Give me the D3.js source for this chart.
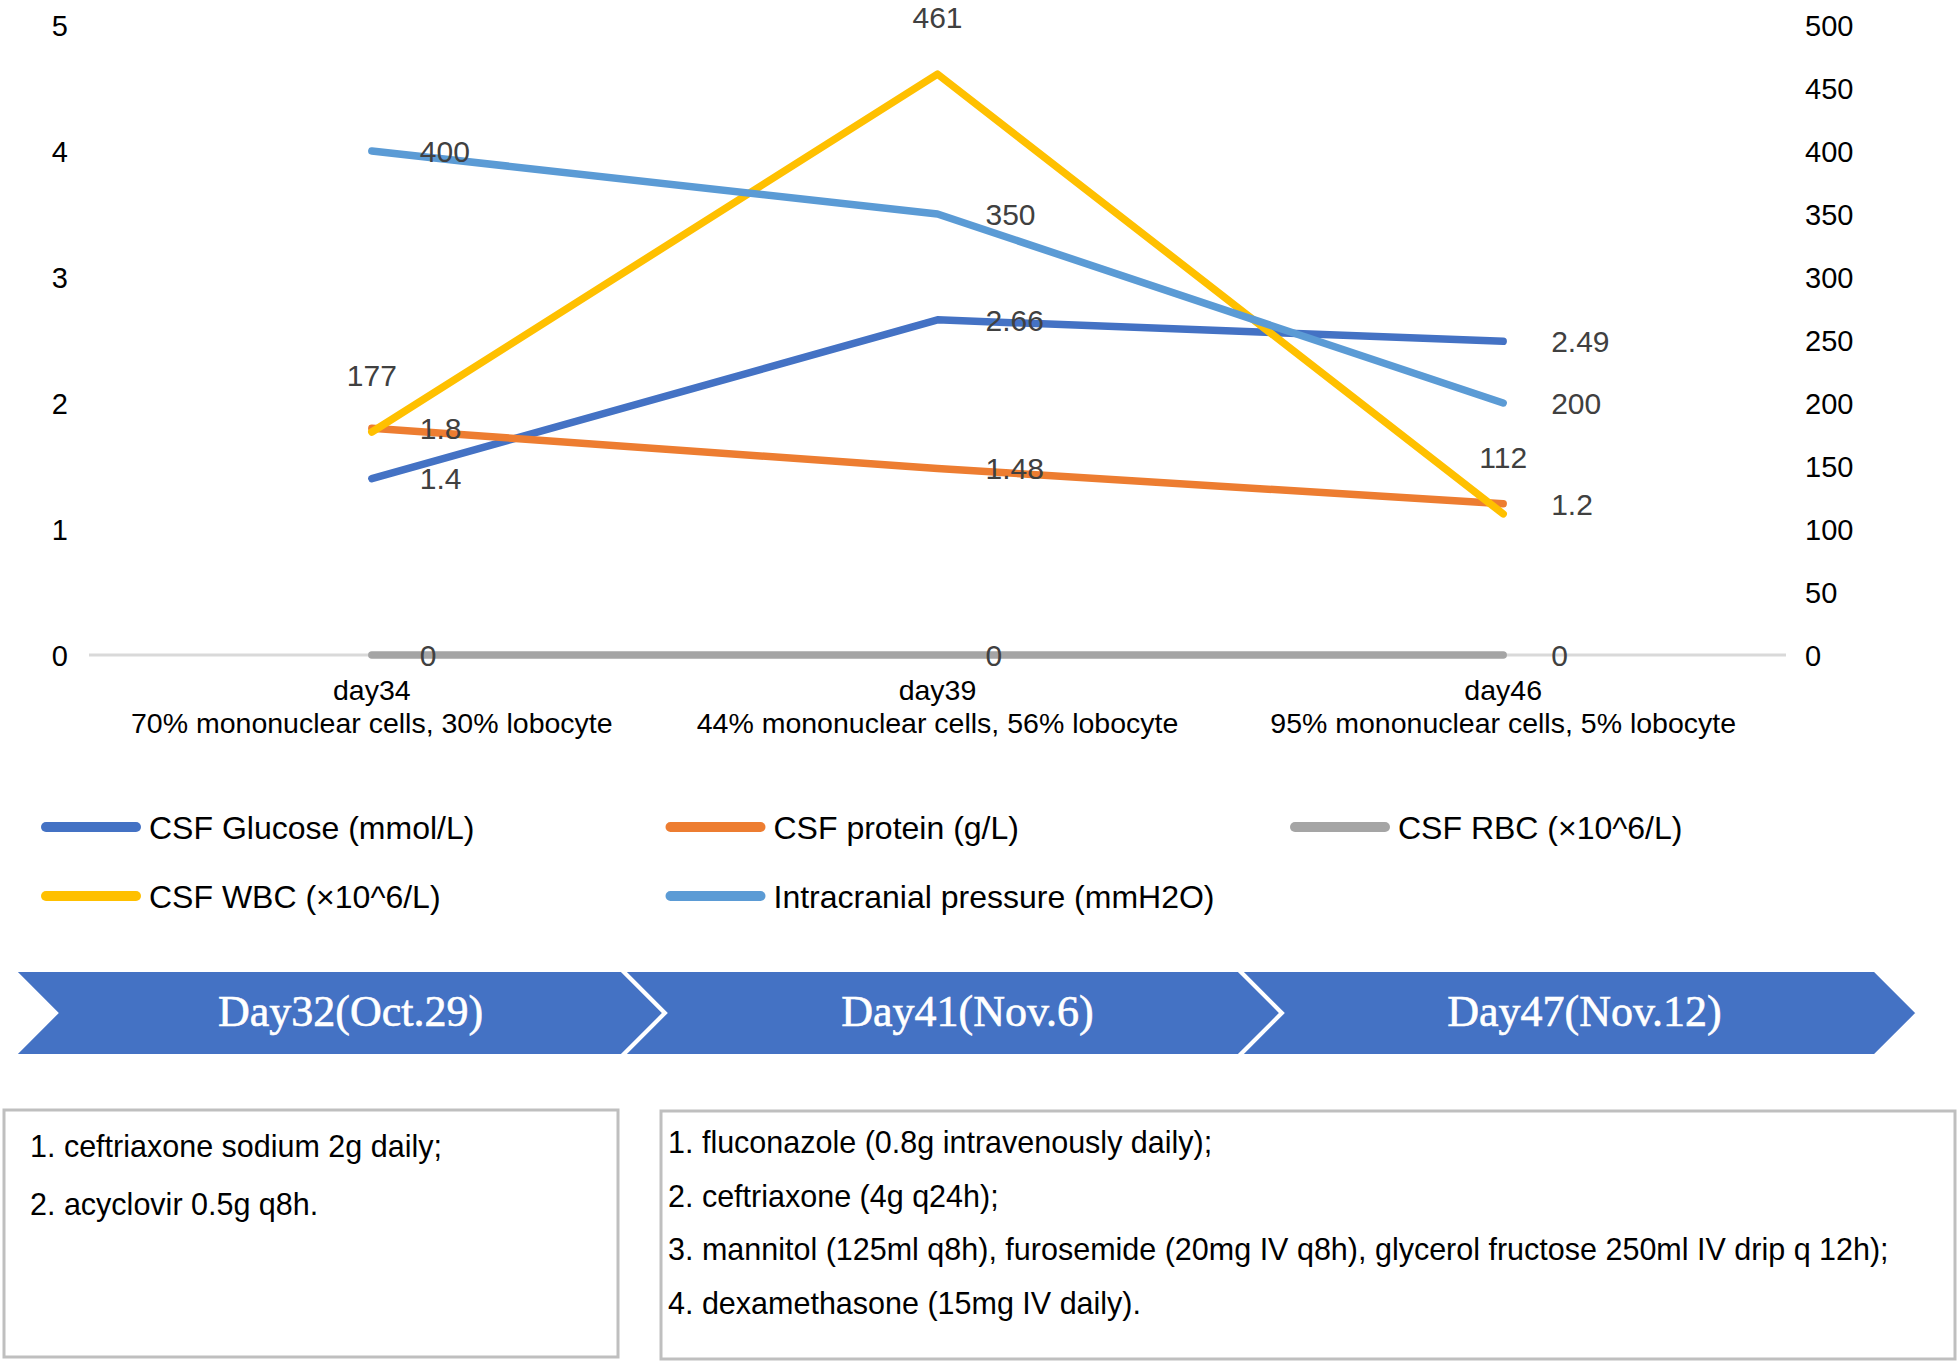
<!DOCTYPE html>
<html>
<head>
<meta charset="utf-8">
<script src="https://cdn.jsdelivr.net/npm/d3@7"></script>
<style>
  body { margin: 0; background: #fff; }
  svg { display: block; font-family: "Liberation Sans", Arial, sans-serif; }
</style>
</head>
<body>
<svg id="chart" width="1959" height="1362"></svg>
<script>
// chart data
const categories = ["day34", "day39", "day46"];
const cellNotes = [
  "70% mononuclear cells, 30% lobocyte",
  "44% mononuclear cells, 56% lobocyte",
  "95% mononuclear cells, 5% lobocyte"
];
const glucose = [1.4, 2.66, 2.49];
const protein = [1.8, 1.48, 1.2];
const rbc = [0, 0, 0];
const wbc = [177, 461, 112];
const pressure = [400, 350, 200];
const leftTicks = [0, 1, 2, 3, 4, 5];
const rightTicks = [0, 50, 100, 150, 200, 250, 300, 350, 400, 450, 500];

// timeline + treatment
const phases = ["Day32(Oct.29)", "Day41(Nov.6)", "Day47(Nov.12)"];
const regimenA = [
  "1. ceftriaxone sodium 2g daily;",
  "2. acyclovir 0.5g q8h."
];
const regimenB = [
  "1. fluconazole (0.8g intravenously daily);",
  "2. ceftriaxone (4g q24h);",
  "3. mannitol (125ml q8h), furosemide (20mg IV q8h), glycerol fructose 250ml IV drip q 12h);",
  "4. dexamethasone (15mg IV daily)."
];

const series = [
  { name: "CSF Glucose (mmol/L)", values: glucose, axis: "left", color: "#4472C4", label: "right" },
  { name: "CSF protein (g/L)", values: protein, axis: "left", color: "#ED7D31", label: "right" },
  { name: "CSF RBC (×10^6/L)", values: rbc, axis: "left", color: "#A5A5A5", label: "right" },
  { name: "CSF WBC (×10^6/L)", values: wbc, axis: "right", color: "#FFC000", label: "above" },
  { name: "Intracranial pressure (mmH2O)", values: pressure, axis: "right", color: "#5B9BD5", label: "right" }
];

const svg = d3.select("#chart");

let x = d3.scaleBand().domain(categories).range([89, 1786]);
let yL = d3.scaleLinear().domain([0, 5]).range([655, 25]);
let yR = d3.scaleLinear().domain([0, 500]).range([655, 25]);
let cx = d => x(d) + x.bandwidth() / 2;

// zero gridline
svg.append("line")
  .attr("x1", 89).attr("x2", 1786)
  .attr("y1", yL(0)).attr("y2", yL(0))
  .attr("stroke", "#D9D9D9").attr("stroke-width", 3);

// axes
let axL = svg.append("g")
  .attr("transform", "translate(68,0)")
  .call(d3.axisLeft(yL).tickValues(leftTicks).tickFormat(d3.format("d")).tickSize(0).tickPadding(0));
let axR = svg.append("g")
  .attr("transform", "translate(1805,0)")
  .call(d3.axisRight(yR).tickValues(rightTicks).tickFormat(d3.format("d")).tickSize(0).tickPadding(0));
[axL, axR].forEach(a => {
  a.select(".domain").remove();
  a.attr("font-family", null).attr("font-size", null);
  a.selectAll("text").attr("font-size", 29).attr("fill", "#000").attr("dy", "0.36em");
});

// category labels
let cat = svg.append("g").selectAll("text")
  .data(categories).join("text")
  .attr("x", d => cx(d))
  .attr("text-anchor", "middle")
  .attr("font-size", 28.5)
  .attr("fill", "#000");
cat.append("tspan").attr("x", d => cx(d)).attr("y", 700).text(d => d);
cat.append("tspan").attr("x", d => cx(d)).attr("y", 733).text((d, i) => cellNotes[i]);

// lines
series.forEach(s => {
  let y = s.axis === "left" ? yL : yR;
  let line = d3.line()
    .x((d, i) => cx(categories[i]))
    .y(d => y(d));
  svg.append("path")
    .datum(s.values)
    .attr("d", line)
    .attr("fill", "none")
    .attr("stroke", s.color)
    .attr("stroke-width", 7.5)
    .attr("stroke-linecap", "round")
    .attr("stroke-linejoin", "round");
});

// data labels
series.forEach(s => {
  let y = s.axis === "left" ? yL : yR;
  svg.append("g").selectAll("text")
    .data(s.values).join("text")
    .attr("x", (d, i) => s.label === "above" ? cx(categories[i]) : cx(categories[i]) + 48)
    .attr("y", d => s.label === "above" ? y(d) - 57 : y(d))
    .attr("dy", "0.36em")
    .attr("text-anchor", s.label === "above" ? "middle" : "start")
    .attr("font-size", 30)
    .attr("fill", "#404040")
    .text(d => d);
});

// legend
let leg = svg.append("g").selectAll("g")
  .data(series).join("g")
  .attr("transform", (d, i) => `translate(${41 + (i % 3) * 624.5},${827 + Math.floor(i / 3) * 69})`);
leg.append("line")
  .attr("x1", 5).attr("x2", 95)
  .attr("stroke", d => d.color)
  .attr("stroke-width", 10)
  .attr("stroke-linecap", "round");
leg.append("text")
  .attr("x", 108)
  .attr("dy", "0.36em")
  .attr("font-size", 32)
  .attr("fill", "#000")
  .text(d => d.name);

// timeline chevrons
let t = d3.scaleBand().domain(phases).range([5, 1856]);
let notch = 43, bandTop = 970, bandBot = 1056, bandMid = (bandTop + bandBot) / 2;
let chev = svg.append("g").selectAll("g")
  .data(phases).join("g");
chev.append("path")
  .attr("d", (d, i) => {
    let x0 = i === 0 ? 13 : t(d);
    let x1 = i === phases.length - 1 ? 1875 : t(d) + t.bandwidth();
    return `M${x0},${bandTop}L${x1},${bandTop}L${x1 + notch},${bandMid}L${x1},${bandBot}L${x0},${bandBot}L${x0 + notch},${bandMid}Z`;
  })
  .attr("fill", "#4472C4")
  .attr("stroke", "#fff")
  .attr("stroke-width", 4)
  .attr("stroke-linejoin", "miter");
chev.append("text")
  .attr("x", d => t(d) + t.bandwidth() / 2 + 37)
  .attr("y", 1026)
  .attr("text-anchor", "middle")
  .attr("font-family", "'Liberation Serif', 'Times New Roman', serif")
  .attr("font-size", 44)
  .attr("fill", "#fff")
  .attr("stroke", "#fff")
  .attr("stroke-width", 0.6)
  .text(d => d);

// treatment boxes
function box(x0, y0, x1, y1, lines, tx, ty, step) {
  svg.append("rect")
    .attr("x", x0).attr("y", y0)
    .attr("width", x1 - x0).attr("height", y1 - y0)
    .attr("fill", "#fff")
    .attr("stroke", "#BFBFBF")
    .attr("stroke-width", 3);
  svg.append("g").selectAll("text")
    .data(lines).join("text")
    .attr("x", tx)
    .attr("y", (d, i) => ty + i * step)
    .attr("font-size", 30.5)
    .attr("fill", "#000")
    .text(d => d);
}
box(4, 1110, 618, 1357, regimenA, 30, 1157, 58);
box(661, 1111, 1955, 1359, regimenB, 668, 1153, 53.7);
</script>
</body>
</html>
